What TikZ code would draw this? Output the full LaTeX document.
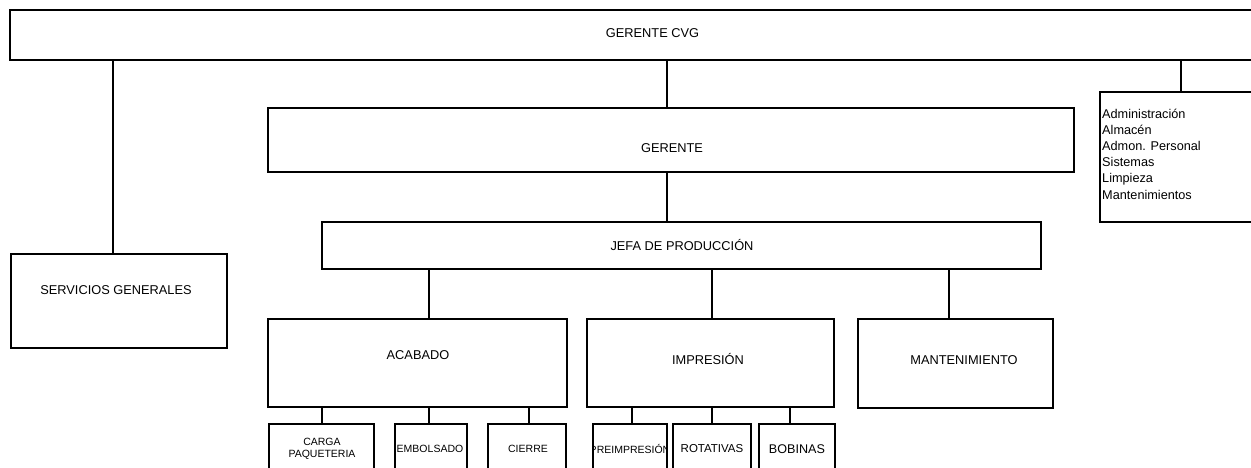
\documentclass[tikz,border=0pt]{standalone}
\usepackage{fontspec}
\setmainfont{Liberation Sans}
\begin{document}
\begin{tikzpicture}[x=1pt,y=-1pt,
  box/.style={draw, line width=1.1pt, inner sep=0pt, outer sep=0pt, anchor=north west},
  lbl/.style={inner sep=0pt, font=\fontsize{12.8}{15}\selectfont},
  small/.style={inner sep=0pt, font=\fontsize{10.5}{11.5}\selectfont, align=center},
  conn/.style={line width=1.1pt}]
\useasboundingbox (0,0) rectangle (1251,468);
\clip (0,0) rectangle (1251,468);
% boxes
\node[box, minimum width=1310, minimum height=50] (cvg) at (10,10) {};
\node[box, minimum width=216, minimum height=94] (serv) at (11,254) {};
\node[box, minimum width=806, minimum height=64] (ger) at (268,108) {};
\node[box, minimum width=200, minimum height=130] (admin) at (1100,92) {};
\node[box, minimum width=719, minimum height=47] (jefa) at (322,222) {};
\node[box, minimum width=299, minimum height=88] (acab) at (268,319) {};
\node[box, minimum width=247, minimum height=88] (impr) at (587,319) {};
\node[box, minimum width=195, minimum height=89] (mant) at (858,319) {};
\node[box, minimum width=105, minimum height=80] (carga) at (269,424) {};
\node[box, minimum width=72, minimum height=80] (embol) at (395,424) {};
\node[box, minimum width=78, minimum height=80] (cierre) at (488,424) {};
\node[box, minimum width=74, minimum height=80] (preimp) at (593,424) {};
\node[box, minimum width=78, minimum height=80] (rotat) at (673,424) {};
\node[box, minimum width=76, minimum height=80] (bobin) at (759,424) {};
% texts
\node[lbl] (tcvg) at (652.5,33) {GERENTE CVG};
\node[lbl] (tserv) at (116,290) {SERVICIOS GENERALES};
\node[lbl] (tger) at (672,148) {GERENTE};
\node[lbl] (tjefa) at (682,245) {JEFA DE PRODUCCIÓN};
\node[lbl] (tacab) at (418,355) {ACABADO};
\node[lbl] (timpr) at (708,359) {IMPRESIÓN};
\node[lbl] (tmant) at (964,360) {MANTENIMIENTO};
\node[inner sep=0pt, anchor=north west, align=left, font=\fontsize{12.7}{16.2}\selectfont] (tadmin) at (1102,108.5)
  {Administración\\Almacén\\Admon. Personal\\Sistemas\\Limpieza\\Mantenimientos};
\node[small] (tcarga) at (322,449) {CARGA\\PAQUETERIA};
\node[small] (tembol) at (430,449) {EMBOLSADO};
\node[small] (tcierre) at (528,449) {CIERRE};
\begin{scope}
  \clip (preimp.north west) rectangle (preimp.south east);
  \node[small] (tpreimp) at (630,449) {PREIMPRESIÓN};
\end{scope}
\node[inner sep=0pt, font=\fontsize{11.5}{13}\selectfont] (trotat) at (712,449) {ROTATIVAS};
\node[inner sep=0pt, font=\fontsize{12.6}{14}\selectfont] (tbobin) at (797,449) {BOBINAS};
% connector positions
\coordinate (xa) at (113,0);
\coordinate (xb) at (667,0);
\coordinate (xc) at (1181,0);
\coordinate (xd) at (429,0);
\coordinate (xe) at (712,0);
\coordinate (xf) at (949,0);
\coordinate (xg) at (322,0);
\coordinate (xh) at (529,0);
\coordinate (xi) at (632,0);
\coordinate (xj) at (790,0);
% connectors
\draw[conn] (cvg.south -| xa) -- (serv.north -| xa);
\draw[conn] (cvg.south -| xb) -- (ger.north -| xb);
\draw[conn] (cvg.south -| xc) -- (admin.north -| xc);
\draw[conn] (ger.south -| xb) -- (jefa.north -| xb);
\draw[conn] (jefa.south -| xd) -- (acab.north -| xd);
\draw[conn] (jefa.south -| xe) -- (impr.north -| xe);
\draw[conn] (jefa.south -| xf) -- (mant.north -| xf);
\draw[conn] (acab.south -| xg) -- (carga.north -| xg);
\draw[conn] (acab.south -| xd) -- (embol.north -| xd);
\draw[conn] (acab.south -| xh) -- (cierre.north -| xh);
\draw[conn] (impr.south -| xi) -- (preimp.north -| xi);
\draw[conn] (impr.south -| xe) -- (rotat.north -| xe);
\draw[conn] (impr.south -| xj) -- (bobin.north -| xj);
\end{tikzpicture}
\end{document}
